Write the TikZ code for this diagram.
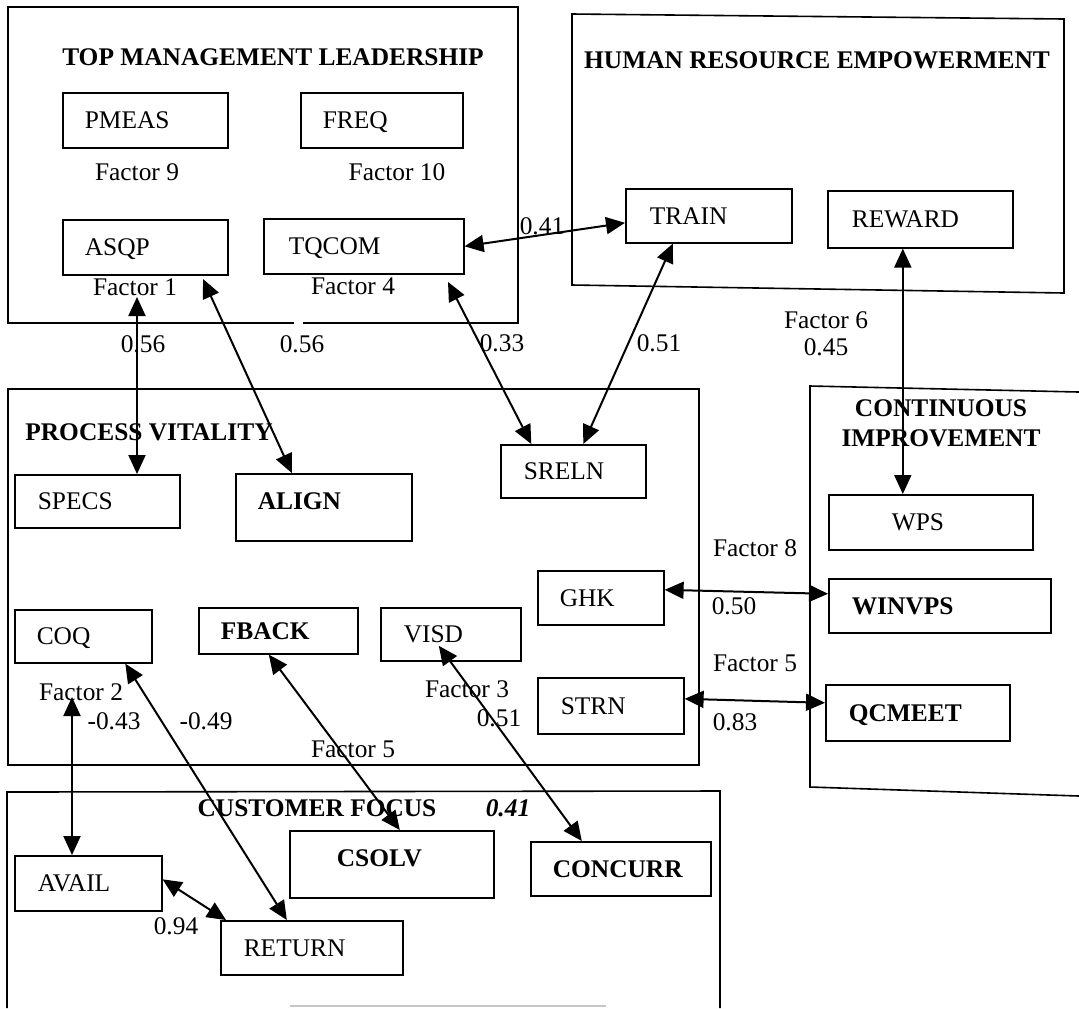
\documentclass[tikz,border=0pt]{standalone}
\usepackage{fontspec}
\setmainfont{Liberation Serif}
\usetikzlibrary{arrows.meta}
\newcommand{\fs}{\fontsize{12.7}{15}\selectfont}
\tikzset{
  x=0.5pt, y=-0.5pt,
  boxst/.style={draw, line width=0.8pt, rectangle, inner ysep=0pt, align=left, font=\fs, text height=8.5pt, text depth=0pt},
  cont/.style={line width=0.8pt},
  lab/.style={font=\fs, inner sep=0pt},
  ttl/.style={font=\fs\bfseries, inner sep=0pt},
  conn/.style={line width=1pt, {Triangle[length=9.5pt,width=8.5pt]}-{Triangle[length=9.5pt,width=8.5pt]}}
}
% #1 extra, #2 name, #3 x1, #4 y1, #5 x2, #6 y2, #7 left pad, #8 text
\newcommand{\mkbox}[8][]{%
  \pgfmathsetmacro{\mybw}{(#5-#3-2*#7)*0.5}%
  \pgfmathsetmacro{\mybh}{(#6-#4)*0.5}%
  \pgfmathsetmacro{\mybp}{#7*0.5}%
  \node[boxst, anchor=north west, text width=\mybw pt, inner xsep=\mybp pt, minimum height=\mybh pt, #1] (#2) at (#3,#4) {#8};}
\begin{document}
\begin{tikzpicture}
\fill[white] (0,0) rectangle (1079,1008);
\useasboundingbox (0,0) rectangle (1079,1008);

% containers
\draw[cont] (294,323) -- (8,323) -- (8,7) -- (518,7) -- (518,323) -- (303,323);
\draw[cont] (572,14) -- (1064,19) -- (1064,293) -- (572,285) -- cycle;
\draw[cont] (8,389) rectangle (699,765);
\draw[cont] (1079,392) -- (810,386) -- (810,787) -- (1079,796);
\draw[cont] (7,1008) -- (7,792) -- (720,791) -- (720,1008);
\draw[gray!45, line width=1pt] (290,1006) -- (606,1006);

% titles
\node[ttl] (ttml) at (273,57) {TOP MANAGEMENT LEADERSHIP};
\node[ttl] (thre) at (817,60) {HUMAN RESOURCE EMPOWERMENT};
\node[ttl] (tpv) at (149,432) {PROCESS VITALITY};
\node[ttl, align=center] (tci) at (941,423) {CONTINUOUS\\IMPROVEMENT};
\node[ttl] (tcf) at (317,808) {CUSTOMER FOCUS};
\node[font=\fs\bfseries\itshape, inner sep=0pt] (tcfv) at (508,808) {0.41};

% boxes
\mkbox{PMEAS}{62}{92}{227}{147}{22}{PMEAS}
\mkbox{FREQ}{300}{92}{462}{147}{22}{FREQ}
\mkbox{ASQP}{62}{219}{227}{274}{22}{ASQP}
\mkbox{TQCOM}{263}{218}{463}{273}{25}{TQCOM}
\mkbox{TRAIN}{625}{188}{791}{242}{24}{TRAIN}
\mkbox{REWARD}{827}{190}{1012}{247}{24}{REWARD}
\mkbox{SPECS}{14}{474}{179}{527}{23}{SPECS}
\mkbox[text depth=6pt]{ALIGN}{235}{473}{411}{540}{22}{\textbf{ALIGN}}
\mkbox{SRELN}{500}{444}{645}{497}{23}{SRELN}
\mkbox{COQ}{14}{609}{151}{662}{22}{COQ}
\mkbox{FBACK}{198}{607}{357}{653}{22}{\textbf{FBACK}}
\mkbox{VISD}{380}{607}{520}{660}{23}{VISD}
\mkbox{GHK}{537}{570}{663}{624}{22}{GHK}
\mkbox{STRN}{537}{677}{683}{733}{23}{STRN}
\mkbox{WPS}{828}{494}{1032}{549}{63}{WPS}
\mkbox{WINVPS}{828}{578}{1050}{632}{23}{\textbf{WINVPS}}
\mkbox{QCMEET}{825}{684}{1009}{740}{23}{\textbf{QCMEET}}
\mkbox{AVAIL}{14}{855}{161}{910}{23}{AVAIL}
\mkbox[text depth=6pt]{CSOLV}{289}{830}{493}{897}{47}{\textbf{CSOLV}}
\mkbox{CONCURR}{530}{841}{710}{895}{22}{\textbf{CONCURR}}
\mkbox{RETURN}{220}{920}{402}{974}{23}{RETURN}

% labels
\node[lab] (f9) at (137,172) {Factor 9};
\node[lab] (f10) at (397,172) {Factor 10};
\node[lab] (f1) at (135,287) {Factor 1};
\node[lab] (f4) at (353,286) {Factor 4};
\node[lab] (l041) at (542,226) {0.41};
\node[lab] (l056a) at (143,344) {0.56};
\node[lab] (l056b) at (302,344) {0.56};
\node[lab] (l033) at (502,343) {0.33};
\node[lab] (l051a) at (659,343) {0.51};
\node[lab] (f6) at (826,320) {Factor 6};
\node[lab] (l045) at (826,347) {0.45};
\node[lab] (f8) at (755,548) {Factor 8};
\node[lab] (l050) at (734,606) {0.50};
\node[lab] (f5a) at (755,663) {Factor 5};
\node[lab] (l083) at (735,722) {0.83};
\node[lab] (f2) at (81,692) {Factor 2};
\node[lab] (l043) at (114,721) {-0.43};
\node[lab] (l049) at (206,721) {-0.49};
\node[lab] (f3) at (467,689) {Factor 3};
\node[lab] (l051b) at (499,718) {0.51};
\node[lab] (f5b) at (353,749) {Factor 5};
\node[lab] (l094) at (176,926) {0.94};

% free ends
\coordinate (f1tip) at (137,297);
\coordinate (a1tip) at (203,279);
\coordinate (t1tip) at (448,282);
\coordinate (f2tip) at (72,697);

% connectors
\draw[conn] (TQCOM.east) -- ([yshift=-3.5pt]TRAIN.west);
\draw[conn] (f1tip) -- (f1tip |- SPECS.north);
\draw[conn] (a1tip) -- ([xshift=-16pt]ALIGN.north);
\draw[conn] (t1tip) -- ([xshift=-21pt]SRELN.north);
\draw[conn] ([xshift=-18pt]TRAIN.south) -- ([xshift=5pt]SRELN.north);
\draw[conn] ([xshift=-8.75pt]REWARD.south) -- ([xshift=-8.75pt]REWARD.south |- WPS.north);
\draw[conn] ([yshift=4pt]GHK.east) -- ([yshift=6pt]WINVPS.west);
\draw[conn] ([yshift=3.5pt]STRN.east) -- ([yshift=5pt]QCMEET.west);
\draw[conn] ([xshift=21pt]COQ.south) -- ([xshift=-12.5pt]RETURN.north);
\draw[conn] (f2tip) -- (f2tip |- AVAIL.north);
\draw[conn] ([yshift=2pt]AVAIL.east) -- ([xshift=3pt]RETURN.north west);
\draw[conn] ([xshift=-4.75pt]FBACK.south) -- ([xshift=4pt]CSOLV.north);
\draw[conn] ([xshift=-6pt,yshift=-5.75pt]VISD.center) -- ([xshift=-19.5pt]CONCURR.north);
\end{tikzpicture}
\end{document}
